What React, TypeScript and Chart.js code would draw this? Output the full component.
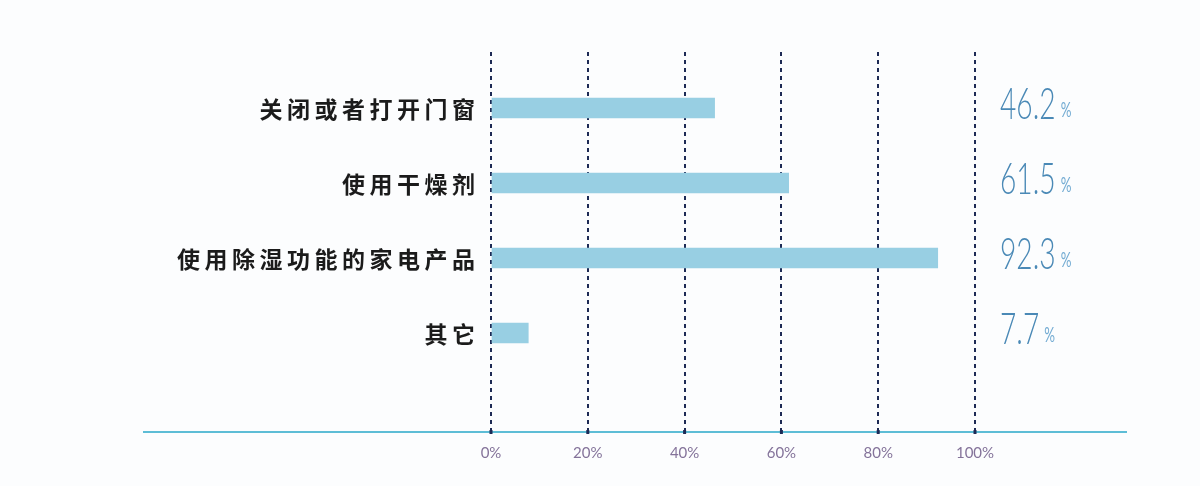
import React, { useEffect, useRef } from "react";
import { Chart, registerables } from "chart.js";

Chart.register(...registerables);

const categories: string[] = ["关闭或者打开门窗", "使用干燥剂", "使用除湿功能的家电产品", "其它"];
const values: number[] = [46.2, 61.5, 92.3, 7.7];
const xTicks: number[] = [0, 20, 40, 60, 80, 100];

const labelPlugin = {
  id: "customLabels",
  afterDraw(chart: any) {
    const ctx = chart.ctx as CanvasRenderingContext2D;
    const y = chart.scales.y;
    const x = chart.scales.x;
    // base axis line
    ctx.save();
    ctx.strokeStyle = "#5dbdd6";
    ctx.lineWidth = 2;
    ctx.beginPath();
    ctx.moveTo(143, x.top);
    ctx.lineTo(1127, x.top);
    ctx.stroke();
    ctx.fillStyle = "#1d2a55";
    xTicks.forEach((t) => {
      const px = x.getPixelForValue(t);
      ctx.fillRect(px - 1.5, x.top - 2, 3, 4);
    });
    ctx.restore();

    // category labels
    ctx.save();
    (ctx as any).letterSpacing = "4.5px";
    ctx.font = "bold 23px 'Noto Sans CJK SC', sans-serif";
    ctx.fillStyle = "#1b1b1b";
    ctx.textAlign = "right";
    ctx.textBaseline = "middle";
    categories.forEach((c, i) => {
      const py = y.getPixelForValue(i);
      ctx.fillText(c, x.left - 16 + 4.5, py + 1);
    });
    ctx.restore();

    // value labels
    values.forEach((v, i) => {
      const py = y.getPixelForValue(i);
      const baseX = x.right + 25;
      const baseY = py + 11;
      ctx.save();
      (ctx as any).letterSpacing = "0px";
      ctx.translate(baseX, baseY);
      ctx.scale(0.64, 1);
      ctx.font = "300 44px Lato, sans-serif";
      ctx.fillStyle = "#4a89b6";
      ctx.textAlign = "left";
      ctx.textBaseline = "alphabetic";
      const txt = v.toFixed(1);
      ctx.fillText(txt, 0, 0);
      const w = ctx.measureText(txt).width;
      ctx.font = "400 21px Lato, sans-serif";
      ctx.fillStyle = "#74acd3";
      ctx.fillText("%", w + 8, -2);
      ctx.restore();
    });
  },
};

export default function App() {
  const ref = useRef<HTMLCanvasElement | null>(null);
  useEffect(() => {
    if (!ref.current) return;
    const chart = new Chart(ref.current, {
      type: "bar",
      data: {
        datasets: [
          {
            data: values.map((v, i) => ({ x: v, y: i })),
            backgroundColor: "#98cfe3",
            borderWidth: 0,
            barThickness: 20,
          },
        ],
      },
      options: {
        indexAxis: "y",
        animation: false,
        responsive: true,
        maintainAspectRatio: false,
        layout: { padding: { left: 491, right: 225, top: 52, bottom: 0 } },
        plugins: { legend: { display: false }, tooltip: { enabled: false } },
        scales: {
          x: {
            type: "linear",
            min: 0,
            max: 100,
            z: 1,
            afterBuildTicks: (s: any) => {
              s.ticks = xTicks.map((v) => ({ value: v }));
            },
            afterFit: (s: any) => {
              s.height = 54;
            },
            border: { display: false, dash: [4, 4] },
            grid: {
              color: "#1d2a55",
              lineWidth: 2,
              drawTicks: false,
            },
            ticks: {
              padding: 12,
              color: "#84739a",
              font: { family: "Lato, sans-serif", size: 15, weight: "400" as any },
              callback: (v: any) => v + "%",
            },
          },
          y: {
            type: "linear",
            reverse: true,
            offset: false,
            min: -0.747,
            max: 4.32,
            display: false,
            grid: { offset: false },
          },
        },
      },
      plugins: [labelPlugin],
    } as any);
    return () => chart.destroy();
  }, []);
  return (
    <div style={{ position: "absolute", left: 0, top: 0, width: 1200, height: 486, background: "#fcfdfe" }}>
      <canvas ref={ref} />
    </div>
  );
}
